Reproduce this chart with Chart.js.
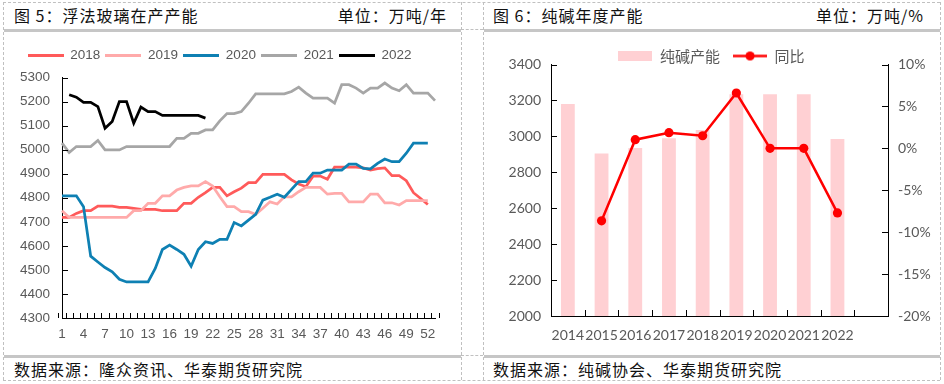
<!DOCTYPE html>
<html><head><meta charset="utf-8">
<script src="https://cdn.jsdelivr.net/npm/chart.js@4.4.1/dist/chart.umd.min.js"></script>
<style>
html,body{margin:0;padding:0;background:#fff;}
body{width:944px;height:384px;position:relative;overflow:hidden;font-family:"Noto Sans CJK SC",sans-serif;}
.dv{position:absolute;width:0;border-left:1px dashed #C0C0C0;}
.dh{position:absolute;height:0;border-top:1px dashed #C0C0C0;}
.gb{position:absolute;height:3px;background:#C6C6C6;}
.t{position:absolute;font-size:16px;line-height:20px;color:#111;white-space:nowrap;letter-spacing:1px;}
canvas{position:absolute;}
</style></head><body>
<div class="dh" style="left:3px;top:2px;width:937px"></div>
<div class="dh" style="left:3px;top:380px;width:937px"></div>
<div class="dv" style="left:3px;top:2px;height:378px"></div>
<div class="dv" style="left:461px;top:2px;height:378px"></div>
<div class="dv" style="left:483px;top:2px;height:378px"></div>
<div class="dv" style="left:940px;top:2px;height:378px"></div>
<div class="dh" style="left:461px;top:29px;width:22px"></div>
<div class="dh" style="left:461px;top:355px;width:22px"></div>
<div class="gb" style="left:4px;top:29px;width:457px"></div>
<div class="gb" style="left:484px;top:29px;width:456px"></div>
<div class="gb" style="left:4px;top:355px;width:457px"></div>
<div class="gb" style="left:484px;top:355px;width:456px"></div>

<div class="t" style="left:14px;top:5px">图 5：浮法玻璃在产产能</div>
<div class="t" style="right:497px;top:5px">单位：万吨/年</div>
<div class="t" style="left:493px;top:5px">图 6：纯碱年度产能</div>
<div class="t" style="right:20px;top:5px">单位：万吨/%</div>
<div class="t" style="left:14px;top:359px">数据来源：隆众资讯、华泰期货研究院</div>
<div class="t" style="left:493px;top:359px">数据来源：纯碱协会、华泰期货研究院</div>

<canvas id="c1" width="456" height="321" style="left:4px;top:33px"></canvas>
<canvas id="c2" width="455" height="321" style="left:484px;top:33px"></canvas>

<script>
// ---------- Data: 浮法玻璃在产产能 (万吨/年), by week ----------
const weeks = Array.from({length: 53}, (_, i) => String(i + 1));
const glass2018 = [4718,4718,4735,4746,4746,4765,4765,4765,4760,4760,4756,4752,4752,4752,4746,4746,4746,4777,4777,4802,4821,4843,4843,4808,4825,4840,4863,4863,4897,4897,4897,4897,4874,4857,4846,4890,4890,4877,4927,4927,4927,4927,4924,4915,4921,4924,4892,4892,4871,4821,4797,4772];
const glass2019 = [4746,4718,4718,4718,4718,4718,4718,4718,4718,4718,4746,4746,4777,4777,4808,4808,4832,4843,4849,4849,4867,4849,4804,4763,4763,4742,4742,4731,4756,4783,4774,4804,4804,4825,4843,4843,4843,4815,4818,4818,4783,4783,4783,4815,4815,4779,4779,4770,4788,4788,4788,4788];
const glass2020 = [4808,4808,4808,4763,4557,4533,4510,4492,4461,4450,4450,4450,4450,4506,4585,4603,4585,4565,4515,4585,4617,4610,4627,4627,4697,4683,4707,4731,4790,4802,4815,4802,4835,4867,4867,4902,4902,4915,4915,4915,4940,4940,4922,4920,4943,4961,4950,4950,4985,5027,5027,5027];
const glass2021 = [5027,4988,5013,5013,5013,5038,4999,4999,4999,5013,5013,5013,5013,5013,5013,5013,5047,5047,5068,5068,5082,5082,5120,5150,5150,5158,5193,5232,5232,5232,5232,5232,5242,5260,5235,5214,5214,5214,5193,5270,5270,5256,5235,5256,5256,5277,5256,5245,5270,5235,5235,5235,5204];
const glass2022 = [null,5228,5218,5197,5197,5179,5089,5117,5200,5200,5110,5177,5158,5158,5142,5142,5142,5142,5142,5142,5131];
const glassYTicks = {min: 4300, max: 5300, step: 100};

// ---------- Data: 纯碱年度产能 (万吨) and 同比 (%) ----------
const years = ['2014','2015','2016','2017','2018','2019','2020','2021','2022',''];
const sodaCapacity = [3180,2905,2935,2990,3035,3235,3235,3235,2985,null];
const sodaYoY = [null,-8.65,1.03,1.87,1.5,6.6,0,0,-7.7,null];
const sodaLeftTicks = {min: 2000, max: 3400, step: 200};
const sodaRightTicks = {min: -20, max: 10, step: 5};

// ---------- helpers ----------
function icon(w, h, draw) {
  const c = document.createElement('canvas'); c.width = w; c.height = h;
  draw(c.getContext('2d'), w, h); return c;
}
const insideTicks = {
  id: 'insideTicks',
  afterDraw(chart, args, opts) {
    const ctx = chart.ctx; ctx.save();
    ctx.strokeStyle = '#000'; ctx.lineWidth = 1;
    const axes = opts.axes || {};
    for (const id of Object.keys(axes)) {
      const s = chart.scales[id]; const len = axes[id];
      ctx.beginPath();
      if (s.isHorizontal()) {
        const n = chart.data.labels.length;
        for (let i = 0; i <= n; i++) {
          const x = Math.round(s.getPixelForValue(i - 0.5)) + 0.5;
          ctx.moveTo(x, s.top); ctx.lineTo(x, s.top - len);
        }
      } else {
        const left = s.position === 'left';
        const x0 = left ? s.right : s.left;
        s.ticks.forEach(t => {
          const y = Math.round(s.getPixelForValue(t.value)) + 0.5;
          ctx.moveTo(x0, y); ctx.lineTo(x0 + (left ? len : -len), y);
        });
      }
      ctx.stroke();
    }
    ctx.restore();
  }
};
const legendGap = {
  id: 'legendGap',
  beforeUpdate(chart, args, opts) {
    const lg = chart.legend;
    if (lg && !lg._gapPatched) {
      const f = lg.fit;
      lg.fit = function () { f.call(this); this.height += (opts.extra || 0); };
      lg._gapPatched = true;
    }
  }
};

// ---------- Chart 1 ----------
const lineColors = ['#FF5A5A', '#FFAAAA', '#0E80B3', '#A6A6A6', '#000000'];
const glassSeries = [['2018', glass2018], ['2019', glass2019], ['2020', glass2020], ['2021', glass2021], ['2022', glass2022]];
const lineIcons = lineColors.map(c => icon(36, 3, (g, w, h) => { g.fillStyle = c; g.fillRect(0, 0, w, h); }));

new Chart(document.getElementById('c1'), {
  type: 'line',
  data: {
    labels: weeks,
    datasets: glassSeries.map(([name, vals], i) => ({
      label: name, data: vals, borderColor: lineColors[i], backgroundColor: lineColors[i],
      borderWidth: 2.75, pointRadius: 0, tension: 0, fill: false, order: 5 - i
    }))
  },
  options: {
    responsive: false, animation: false, devicePixelRatio: 1,
    layout: {padding: {top: 11, right: 25, left: 0, bottom: 0}},
    plugins: {
      tooltip: {enabled: false},
      legendGap: {extra: 5},
      insideTicks: {axes: {x: 5, y: 6}},
      legend: {
        position: 'top',
        labels: {
          usePointStyle: true, pointStyleWidth: 36, padding: 5,
          color: '#595959', font: {family: 'Liberation Sans', size: 13.5},
          generateLabels: (chart) => chart.data.datasets.map((ds, i) => ({
            text: ds.label, pointStyle: lineIcons[i], fillStyle: ds.borderColor,
            strokeStyle: 'transparent', lineWidth: 0, hidden: false, datasetIndex: i, fontColor: '#595959'
          }))
        }
      }
    },
    scales: {
      x: {
        grid: {display: true, drawOnChartArea: false, drawTicks: false},
        border: {display: true, color: '#000', width: 1},
        ticks: {autoSkip: false, maxRotation: 0, minRotation: 0, padding: 8, color: '#595959',
          font: {family: 'Liberation Sans', size: 13.5},
          callback: (v, i) => (i % 3 === 0 ? weeks[i] : '')},
        afterFit(s) { s.height = 36; }
      },
      y: {
        min: glassYTicks.min, max: glassYTicks.max,
        grid: {display: true, drawOnChartArea: false, drawTicks: false},
        border: {display: true, color: '#000', width: 1},
        ticks: {stepSize: glassYTicks.step, padding: 12, color: '#595959',
          font: {family: 'Liberation Sans', size: 13.5}, callback: v => String(v)},
        afterFit(s) { s.width = 58; }
      }
    }
  },
  plugins: [insideTicks, legendGap]
});

// ---------- Chart 2 ----------
const barIcon = icon(34, 10, (g, w, h) => { g.fillStyle = '#FFD0D3'; g.fillRect(0, 0, w, h); });
const lineDotIcon = icon(34, 11, (g, w, h) => {
  g.strokeStyle = '#FF0000'; g.lineWidth = 2.5; g.beginPath(); g.moveTo(0, h / 2); g.lineTo(w, h / 2); g.stroke();
  g.fillStyle = '#FF0000'; g.beginPath(); g.arc(w / 2, h / 2, 4.6, 0, Math.PI * 2); g.fill();
});
const sodaIcons = [barIcon, lineDotIcon];

new Chart(document.getElementById('c2'), {
  data: {
    labels: years,
    datasets: [
      {type: 'bar', label: '纯碱产能', data: sodaCapacity, backgroundColor: '#FFD0D3',
        barPercentage: 0.41, categoryPercentage: 1, yAxisID: 'y', order: 2},
      {type: 'line', label: '同比', data: sodaYoY, borderColor: '#FF0000', backgroundColor: '#FF0000',
        borderWidth: 2.5, pointRadius: 4.6, pointBorderWidth: 0, pointBackgroundColor: '#FF0000',
        tension: 0, yAxisID: 'y1', order: 1}
    ]
  },
  options: {
    responsive: false, animation: false, devicePixelRatio: 1,
    layout: {padding: {top: 2.5, right: 0, left: 0, bottom: 0}},
    plugins: {
      tooltip: {enabled: false},
      legendGap: {extra: -9},
      insideTicks: {axes: {x: 6, y: 6, y1: 6}},
      legend: {
        position: 'top',
        labels: {
          usePointStyle: true, pointStyleWidth: 34, padding: 13,
          color: '#595959', font: {family: 'Noto Sans CJK SC', size: 15},
          generateLabels: (chart) => chart.data.datasets.map((ds, i) => ({
            text: ds.label, pointStyle: sodaIcons[i], fillStyle: '#FF0000',
            strokeStyle: 'transparent', lineWidth: 0, hidden: false, datasetIndex: i, fontColor: '#595959'
          }))
        }
      }
    },
    scales: {
      x: {
        grid: {display: true, drawOnChartArea: false, drawTicks: false},
        border: {display: true, color: '#000', width: 1},
        ticks: {autoSkip: false, maxRotation: 0, minRotation: 0, padding: 11, color: '#595959',
          font: {family: 'Lato', size: 14}},
        afterFit(s) { s.height = 38; }
      },
      y: {
        position: 'left', min: sodaLeftTicks.min, max: sodaLeftTicks.max,
        grid: {display: true, drawOnChartArea: false, drawTicks: false},
        border: {display: true, color: '#000', width: 1},
        ticks: {stepSize: sodaLeftTicks.step, padding: 10, color: '#595959', font: {family: 'Lato', size: 14},
          callback: v => String(v)},
        afterFit(s) { s.width = 67; }
      },
      y1: {
        position: 'right', min: sodaRightTicks.min, max: sodaRightTicks.max,
        grid: {display: true, drawOnChartArea: false, drawTicks: false},
        border: {display: true, color: '#000', width: 1},
        ticks: {stepSize: sodaRightTicks.step, padding: 10, color: '#595959', font: {family: 'Lato', size: 14},
          callback: v => v + '%'},
        afterFit(s) { s.width = 51; }
      }
    }
  },
  plugins: [insideTicks, legendGap]
});
</script>
</body></html>
